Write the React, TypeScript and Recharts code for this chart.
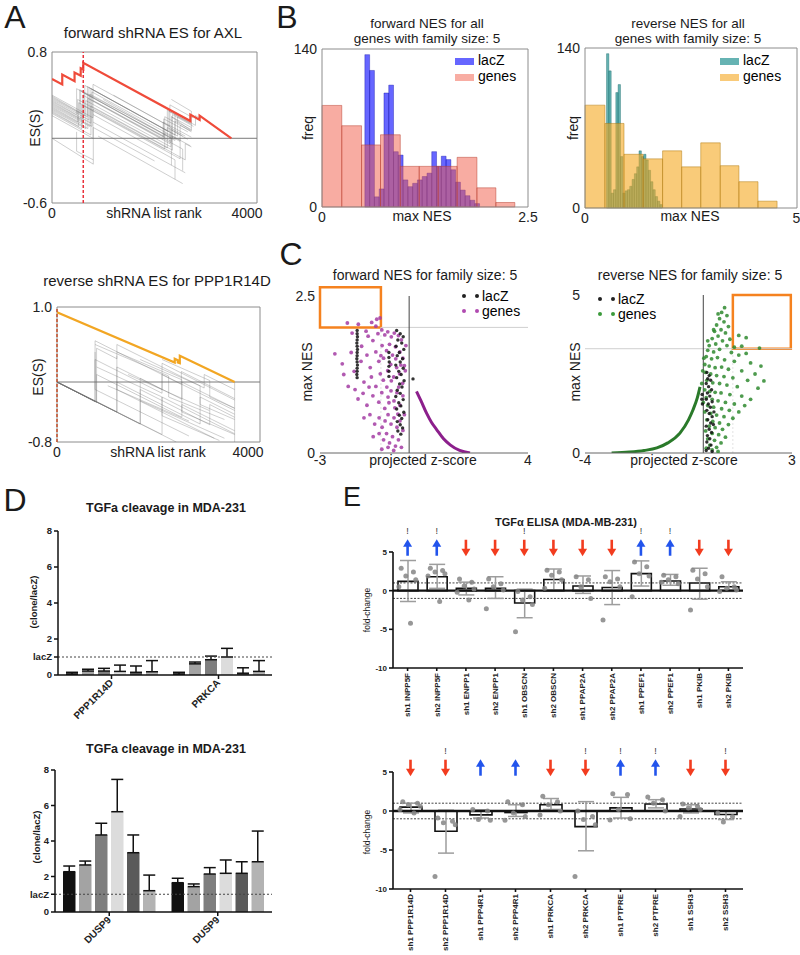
import React from 'react';
import {
  ComposedChart, BarChart, Bar, Line, Scatter, XAxis, YAxis,
  ReferenceArea, ReferenceLine, ReferenceDot, ErrorBar,
} from 'recharts';

const FONT = "'Liberation Sans', Arial, Helvetica, sans-serif";

/* ---------------- A: running enrichment scores ---------------- */
const aFwdHitRank = 610;
const aFwdRed = [[0,0.55],[200,0.5],[200,0.59],[440,0.53],[440,0.61],[560,0.58],[560,0.65],[610,0.64],[610,0.70],[2700,0.16],[2700,0.22],[2880,0.17],[2880,0.21],[3500,0]];
const aFwdGray = [
  [[0,0.40],[800,0.19],[800,0.50],[2300,0.11],[2300,0.31],[2750,0.19]],
  [[0,0.39],[690,0.2],[690,0.48],[2280,0.06],[2280,0.25],[2700,0.14]],
  [[0,0.38],[640,0.21],[640,0.49],[2250,0.07],[2250,0.26],[2800,0.12],[2800,0.21],[2900,0.18]],
  [[0,0.37],[540,0.23],[540,0.45],[2350,0.0],[2350,0.22],[2760,0.11]],
  [[0,0.36],[720,0.17],[720,0.47],[2400,0.03],[2400,0.24],[2720,0.16]],
  [[0,0.35],[480,0.22],[480,0.46],[2200,0.01],[2200,0.20],[2700,0.07]],
  [[0,0.34],[760,0.14],[760,0.46],[2450,0.02],[2450,0.2],[2720,0.13]],
  [[0,0.33],[560,0.18],[560,0.44],[2330,-0.03],[2330,0.20],[2720,0.10]],
  [[0,0.32],[620,0.16],[620,0.42],[2180,0.02],[2180,0.18],[2650,0.06]],
  [[0,0.31],[780,0.11],[780,0.43],[2500,-0.02],[2500,0.12],[2720,0.06]],
  [[0,0.30],[740,0.11],[740,0.41],[2400,-0.02],[2400,0.16],[2720,0.08]],
  [[0,0.29],[600,0.13],[600,0.40],[2170,-0.01],[2170,0.15],[2720,0.01]],
  [[0,0.28],[500,0.15],[500,0.36],[2250,-0.09],[2250,0.1],[2550,0.02]],
  [[0,0.27],[700,0.09],[700,0.37],[2300,-0.05],[2300,0.10],[2600,0.02]],
  [[0,0.26],[660,0.09],[660,0.35],[2320,-0.08],[2320,0.08],[2650,-0.01]],
  [[0,0.25],[520,0.11],[520,0.33],[2200,-0.10],[2200,0.05],[2500,-0.03]],
  [[0,0.24],[580,0.09],[580,0.31],[2500,-0.19],[2500,0.0]],
  [[0,0.23],[760,0.03],[760,0.30],[2350,-0.11],[2350,0.02],[2700,-0.07]],
  [[0,0.21],[800,0.00],[800,0.27],[2600,-0.20],[2600,-0.05],[2720,-0.08]],
  [[0,0.00],[806,-0.24],[806,0.10],[2000,-0.21]],
  [[480,0.06],[480,-0.12],[806,-0.2]],
  [[800,0.22],[2400,-0.20],[2400,-0.38]],
  [[800,0.35],[2550,-0.1],[2550,-0.3]],
  [[800,0.15],[2600,-0.32]],
  [[900,0.02],[2550,-0.42]],
  [[1000,0.36],[2330,0.0],[2330,-0.25]],
  [[1200,0.4],[2330,0.1]],
  [[2330,0.36],[2720,0.25],[2720,0.07],[2330,0.2]],
];
const aRevHitRank = 0;
const aRevOrange = [[0,0.93],[2320,0.26],[2320,0.31],[2380,0.29],[2380,0.26],[2420,0.25],[2420,0.35],[3500,0]];
const aRevGray = [
  [[0,0],[750,-0.26],[750,0.55],[2450,-0.03],[2450,0.14],[3500,-0.22]],
  [[0,0],[780,-0.27],[780,0.45],[1180,0.31],[1180,0.5],[2900,-0.08],[2900,0.1],[3500,-0.1]],
  [[0,0],[1180,-0.4],[1180,0.2],[2070,-0.1],[2070,0.25],[3500,-0.24]],
  [[0,0],[1180,-0.4],[1180,0.0],[2820,-0.56],[2820,-0.2],[3500,-0.43]],
  [[0,0],[1640,-0.56],[1640,0.05],[2460,-0.23],[2460,0.0],[3500,-0.35]],
  [[0,0],[750,-0.26],[750,0.3],[2070,-0.15],[2070,0.1],[3500,-0.38]],
  [[0,0],[1640,-0.56],[1640,-0.1],[3010,-0.57],[3010,-0.3],[3500,-0.47]],
  [[0,0],[2070,-0.7],[2070,-0.2],[3500,-0.69]],
  [[0,0],[780,-0.27],[780,0.1],[2460,-0.47],[2460,-0.3],[3500,-0.65]],
  [[0,0],[2350,-0.8]],
  [[750,0.4],[750,-0.1],[2600,-0.72]],
  [[750,0.5],[2200,0.08],[2200,-0.2],[3300,-0.5]],
  [[1180,0.35],[1180,-0.1],[3100,-0.75]],
  [[1180,0.4],[2460,0.03],[2460,-0.4],[3500,-0.7]],
  [[1640,0.3],[2820,-0.05],[2820,-0.3],[3500,-0.5]],
  [[780,0.2],[2070,-0.2],[2070,-0.45],[3200,-0.78]],
  [[2070,0.3],[3010,0.02],[3010,-0.2],[3500,-0.35]],
  [[1400,0.1],[3000,-0.38]],
  [[1000,-0.05],[2600,-0.52]],
  [[1640,-0.25],[3300,-0.75]],
  [[3500,0.0],[3500,-0.8]],
];

/* ---------------- B: NES histograms ---------------- */
const bFwdGeneEdges = [0, 0.24, 0.48, 0.71, 0.95, 1.18, 1.41, 1.64, 1.88, 2.11, 2.34];
const bFwdGeneCounts = [90, 72, 55, 64, 36, 36, 36, 44, 17, 4];
const bFwdLacZStart = 0.52;
const bFwdLacZWidth = 0.058;
const bFwdLacZCounts = [135,121,9,16,101,108,49,46,24,18,21,24,27,30,49,36,45,42,33,22,15,10,6,3];
const bRevGeneEdges = [0, 0.47, 0.92, 1.37, 1.83, 2.28, 2.73, 3.19, 3.63, 4.08, 4.53];
const bRevGeneCounts = [90, 74, 47, 43, 50, 36, 57, 37, 23, 6];
const bRevLacZStart = 0.508;
const bRevLacZWidth = 0.0547;
const bRevLacZCounts = [135,120,13,16,101,108,45,13,15,16,19,25,30,36,50,45,47,42,33,23,16,10,6,3];

/* ---------------- C: NES vs projected z-score ---------------- */
const cFwdGenes = [
  [-2.08,2.07],[-1.71,2.05],[-1.26,2.08],[-1.09,2.13],[-0.98,2.15],[-1.12,2.02],[-1.45,1.94],[-1.92,1.91],
  [-2.5,1.58],[-2.25,1.42],[-1.95,1.6],[-1.38,1.86],[-1.22,1.79],[-1.05,1.9],[-0.92,1.96],[-0.82,1.88],[-0.72,1.93],[-0.6,1.85],[-0.5,1.91],[-0.36,1.87],[-0.26,1.8],
  [-1.62,1.46],[-1.42,1.56],[-1.31,1.36],[-1.12,1.61],[-1.02,1.46],[-0.91,1.71],[-0.86,1.51],[-0.76,1.63],[-0.66,1.73],[-0.56,1.56],[-0.46,1.69],[-0.31,1.61],[-0.21,1.51],[-0.16,1.39],[-0.11,1.71],
  [-2.05,1.06],[-1.82,1.01],[-1.52,1.13],[-1.27,1.21],[-1.12,1.06],[-0.97,1.26],[-0.87,1.16],[-0.72,1.31],[-0.62,1.41],[-0.52,1.21],[-0.42,1.36],[-0.32,1.26],[-0.22,1.11],[-0.13,1.31],
  [-1.72,0.86],[-1.42,0.76],[-1.22,0.91],[-1.02,0.81],[-0.92,0.96],[-0.82,0.71],[-0.71,0.89],[-0.61,0.99],[-0.51,0.83],[-0.41,0.96],[-0.31,0.76],[-0.21,0.91],[-0.16,0.61],
  [-1.52,0.56],[-1.32,0.61],[-1.16,0.46],[-1.01,0.56],[-0.91,0.41],[-0.81,0.51],[-0.71,0.61],[-0.61,0.46],[-0.51,0.56],[-0.41,0.41],[-0.31,0.51],[-0.21,0.36],
  [-1.21,0.26],[-1.01,0.31],[-0.86,0.21],[-0.76,0.31],[-0.66,0.16],[-0.56,0.26],[-0.46,0.11],[-0.36,0.21],[-0.26,0.09],
  [-0.92,0.06],[-0.71,0.09],[-0.52,0.04],
  [-2.2,1.25],[-1.85,1.3],[-1.6,1.7],[-1.55,0.95],[-1.35,1.05],[-0.95,1.55],[-0.45,1.5],[-0.28,1.4],[-0.6,1.15],[-0.35,1.05],[-0.75,1.05],[-0.48,0.72],[-0.68,0.8],[-0.38,0.62],
];
const cFwdLacZ = [
  [-1.75,1.95],[-1.75,1.9],[-1.74,1.85],[-1.75,1.8],[-1.76,1.75],[-1.75,1.7],[-1.74,1.65],[-1.75,1.6],[-1.75,1.55],[-1.76,1.5],[-1.75,1.45],[-1.74,1.4],[-1.75,1.35],[-1.75,1.3],[-1.76,1.25],[-1.75,1.2],
  [-0.68,1.6],[-0.68,1.52],[-0.67,1.45],[-0.68,1.38],[-0.68,1.3],[-0.68,1.22],
  [-0.42,1.95],[-0.3,1.9],[-0.2,1.85],[-0.38,1.8],[-0.25,1.75],[-0.44,1.7],[-0.18,1.65],[-0.33,1.6],[-0.4,1.55],[-0.22,1.5],[-0.3,1.45],[-0.45,1.4],[-0.2,1.35],[-0.35,1.3],[-0.27,1.25],[-0.42,1.2],[-0.17,1.15],[-0.32,1.1],[-0.24,1.05],[-0.4,1.0],[-0.3,0.95],[-0.45,0.9],[-0.2,0.85],[-0.35,0.8],[-0.28,0.75],[-0.42,0.7],[-0.18,0.65],[-0.33,0.6],[-0.25,0.55],[-0.4,0.5],[-0.3,0.45],[-0.22,0.4],[-0.38,0.35],[-0.28,0.3],
  [0.13,1.18],
];
const cFwdCurve = [[0.25,0.98],[0.4,0.83],[0.59,0.63],[0.75,0.49],[0.93,0.37],[1.15,0.23],[1.38,0.13],[1.7,0.04],[2.05,0]];
const cFwdBox = { x1: -3, x2: -0.95, y1: 2.0, y2: 2.64 };

const cRevGenes = [
  [0.72,4.6],[0.62,4.45],[0.8,4.35],[0.55,4.25],[0.7,4.15],[0.45,4.05],[0.85,4.0],[0.6,3.9],[0.38,3.85],[0.75,3.8],[0.5,3.7],[0.3,3.62],[0.9,3.6],[0.65,3.55],[0.42,3.45],[0.2,3.4],[0.8,3.4],
  [1.2,3.72],[1.45,3.65],[1.3,3.38],[1.9,3.32],[1.05,3.35],
  [0.15,3.25],[0.35,3.2],[0.55,3.28],[0.95,3.18],[1.2,3.1],[1.45,3.15],[0.1,3.05],[0.28,2.98],[0.48,3.02],[0.72,2.95],[1.05,2.9],[1.6,2.85],[1.95,2.75],[0.05,2.8],[0.2,2.75],[0.4,2.7],[0.62,2.72],[0.85,2.65],[1.3,2.6],[1.75,2.5],
  [0.08,2.55],[0.25,2.5],[0.45,2.45],[0.7,2.42],[1.0,2.38],[1.5,2.3],[2.05,2.28],[0.12,2.3],[0.32,2.22],[0.55,2.2],[0.8,2.15],[1.15,2.1],[1.85,2.05],
  [0.05,2.0],[0.22,1.95],[0.4,1.92],[0.6,1.9],[0.9,1.85],[1.3,1.8],[1.6,1.7],[0.1,1.75],[0.3,1.7],[0.5,1.65],[0.75,1.6],[1.05,1.55],[1.4,1.5],[0.15,1.5],[0.35,1.45],[0.62,1.4],[0.88,1.35],[1.2,1.3],
  [0.05,1.3],[0.25,1.25],[0.45,1.2],[0.7,1.15],[1.0,1.1],[0.12,1.05],[0.32,1.0],[0.55,0.95],[0.85,0.9],[0.2,0.85],[0.4,0.8],[0.65,0.75],[0.08,0.7],[0.3,0.62],[0.52,0.58],[0.75,0.5],
  [0.15,0.45],[0.38,0.4],[0.6,0.32],[0.22,0.25],[0.45,0.18],[0.3,0.1],[0.5,0.05],[0.1,0.15],
  [-0.05,2.2],[0.0,1.6],[-0.02,2.6],[0.02,3.0],[0.35,3.9],[0.15,3.55],[0.5,4.4],
];
const cRevLacZ = [
  [0.12,2.55],[0.2,2.45],[0.15,2.35],[0.25,2.3],[0.1,2.2],[0.18,2.1],[0.28,2.0],[0.14,1.9],[0.22,1.8],[0.1,1.7],[0.3,1.62],[0.17,1.55],[0.24,1.45],[0.12,1.35],[0.2,1.25],[0.3,1.15],[0.15,1.05],[0.25,0.95],[0.1,0.85],[0.2,0.75],[0.28,0.65],[0.14,0.55],[0.22,0.45],[0.12,0.35],[0.26,0.25],[0.18,0.15],[0.1,0.08],[0.3,0.05],
  [-0.04,1.85],[-0.05,1.7],[-0.03,1.55],[0.34,0.9],[0.36,1.3],
];
const cRevCurve = [[-3.1,0],[-2.5,0.03],[-2.0,0.08],[-1.57,0.16],[-1.2,0.32],[-0.79,0.63],[-0.5,1.05],[-0.35,1.36],[-0.2,1.75],[-0.11,2.09]];
const cRevBox = { x1: 1.0, x2: 2.96, y1: 3.3, y2: 5.0 };

/* ---------------- D: TGFa cleavage ---------------- */
const dTopGroups = ['PPP1R14D', 'PRKCA'];
const dTopMeans = [[0.06,0.22,0.22,0.2,0.15,0.18],[0.06,0.62,0.85,1.0,0.1,0.2]];
const dTopUpper = [[0.15,0.32,0.37,0.55,0.5,0.8],[0.15,0.72,1.05,1.48,0.4,0.8]];
const dBotGroups = ['DUSP9', 'DUSP9'];
const dBotMeans = [[2.27,2.65,4.34,5.65,3.34,1.2],[1.65,1.43,2.14,2.18,2.18,2.83]];
const dBotUpper = [[2.59,2.87,5.0,7.47,4.34,2.08],[1.9,1.58,2.5,2.93,2.83,4.56]];

/* ---------------- E: TGFα ELISA ---------------- */
const eTopLabels = ['sh1 INPP5F','sh2 INPP5F','sh1 ENPP1','sh2 ENPP1','sh1 OBSCN','sh2 OBSCN','sh1 PPAP2A','sh2 PPAP2A','sh1 PPEF1','sh2 PPEF1','sh1 PKIB','sh2 PKIB'];
const eTopMeans = [1.2,1.8,0.3,0.3,-1.6,1.45,0.6,0.4,2.2,1.25,1.0,0.5];
const eTopLow = [-1.4,0.3,-0.55,-1.0,-3.5,0.1,-0.35,-1.8,0.6,0.7,-1.1,-0.1];
const eTopHigh = [3.9,3.4,1.1,1.8,0.2,2.8,1.9,2.6,3.85,2.1,2.9,1.15];
const eTopDots = [[2.9,2.4,1.9,1.4,0.5,-4.2],[2.9,2.6,2.4,2.2,1.9,-1.4],[1.5,1.1,0.6,0.2,-0.2,-1.2],[1.5,0.9,0.5,0.1,-2.35],[-0.1,-0.8,-1.2,-1.8,-5.3],[2.65,2.4,2.0,1.4,0.3],[1.8,1.4,0.5,-1.0],[1.8,1.5,1.15,0.5,-3.8],[3.7,3.1,2.2,1.9,-0.8],[2.0,1.8,1.4,0.9,1.1],[2.65,2.2,1.5,0.5,-2.5],[1.8,0.5,0.3,0.1,-0.1]];
const eTopDir = [1,1,-1,-1,-1,-1,-1,-1,1,1,-1,-1];
const eTopBang = [1,1,0,0,1,0,0,0,1,1,0,0];

const eBotLabels = ['sh1 PPP1R14D','sh2 PPP1R14D','sh1 PPP4R1','sh2 PPP4R1','sh1 PRKCA','sh2 PRKCA','sh1 PTPRE','sh2 PTPRE','sh1 SSH3','sh2 SSH3'];
const eBotMeans = [0.5,-2.6,-0.5,-0.2,0.8,-2.0,0.4,0.9,0.25,-0.45];
const eBotLow = [-0.25,-5.4,-0.9,-0.7,0.2,-5.1,-0.9,0.4,-0.25,-1.1];
const eBotHigh = [1.0,0.1,0.15,0.8,1.6,1.2,1.75,1.45,0.8,0.0];
const eBotDots = [[1.2,1.0,0.8,0.6,0.2,-0.25],[-0.9,-1.3,-1.5,-1.75,-8.4],[0.2,0.0,-1.1,-1.2],[1.2,0.8,-0.25,-0.7,-1.2],[1.9,1.2,0.8,0.0,-0.5],[0.0,-0.7,-1.1,-1.75,-8.4],[2.2,2.1,0.2,-1.0,-1.15],[1.8,1.45,1.0,0.0],[0.9,0.6,0.4,0.2,-0.7],[-0.25,-0.7,-1.4]];
const eBotDir = [-1,-1,1,1,-1,-1,1,1,-1,-1];
const eBotBang = [0,1,0,0,0,1,1,1,0,1];

/* ---------------- helpers ---------------- */
const xy = (pts: number[][]) => pts.map(([x, y]) => ({ x, y }));
const tick14 = { fontSize: 14, fill: '#222', fontFamily: FONT };
const D_COLORS = ['#111111', '#a3a3a3', '#7e7e7e', '#dcdcdc', '#5a5a5a', '#b3b3b3'];
const E_JITTER = [-0.22, 0.2, -0.06, 0.28, -0.3, 0.1];
const E_ARROW_Y = 5.55;

function Txt({ x, y, size = 14, bold = false, rot = 0, children }: any) {
  return (
    <div style={{
      position: 'absolute', left: x, top: y,
      transform: `translate(-50%,-50%) rotate(${rot}deg)`,
      fontSize: size, fontWeight: bold ? 700 : 400, fontFamily: FONT,
      whiteSpace: 'nowrap', lineHeight: 1, color: '#1a1a1a',
    }}>{children}</div>
  );
}

function ESPanel({ top, width, height, mTop, mRight, yW, xH, yDomain, walks, main, mainColor, hitRank, hitColor, xTickShift }: any) {
  return (
    <div style={{ position: 'absolute', left: 0, top }}>
      <ComposedChart width={width} height={height} margin={{ top: mTop, right: mRight, bottom: 0, left: 0 }}>
        <XAxis type="number" dataKey="x" domain={[0, 4000]} ticks={[0, 4000]} allowDataOverflow
          axisLine={false} tickLine={false} tickSize={3} height={xH}
          tick={(p: any) => (
            <text x={p.x + (p.payload.value === 4000 ? xTickShift : 0)} y={p.y} dy="0.71em" textAnchor="middle" {...tick14}>{p.payload.value}</text>
          )} />
        <YAxis type="number" domain={yDomain} ticks={yDomain} allowDataOverflow axisLine={false} tickLine={false}
          tickSize={3} width={yW} tick={tick14} tickFormatter={(v: number) => v.toFixed(1)} />
        <ReferenceLine y={0} stroke="#7a7a7a" strokeWidth={1} />
        {walks.map((w: number[][], i: number) => (
          <Line key={i} data={xy(w)} dataKey="y" type="linear" stroke="#707070" strokeOpacity={0.42}
            strokeWidth={0.8} dot={false} isAnimationActive={false} />
        ))}
        <Line data={xy(main)} dataKey="y" type="linear" stroke={mainColor} strokeWidth={2.2} dot={false} isAnimationActive={false} />
        <ReferenceLine x={hitRank} stroke={hitColor} strokeDasharray="3 2" strokeWidth={1.5} ifOverflow="visible" />
        <ReferenceArea x1={0} x2={4000} y1={yDomain[0]} y2={yDomain[1]} fill="none" stroke="#8c8c8c" ifOverflow="visible" />
      </ComposedChart>
    </div>
  );
}

function HistPanel({ left, width, yW, mRight, mTop, xH, xMax, geneEdges, geneCounts, lzStart, lzWidth, lzCounts, lzFill, lzStroke, geneFill, geneStroke, geneOpacity }: any) {
  return (
    <div style={{ position: 'absolute', left, top: 0 }}>
      <ComposedChart width={width} height={225} margin={{ top: mTop, right: mRight, bottom: 0, left: 0 }}>
        <XAxis type="number" dataKey="x" domain={[0, xMax]} ticks={[0, xMax]} allowDataOverflow axisLine={false}
          tickLine={false} tickSize={3} height={xH} tick={tick14} />
        <YAxis type="number" dataKey="y" domain={[0, 140]} ticks={[0, 140]} allowDataOverflow axisLine={false}
          tickLine={false} tickSize={3} width={yW} tick={tick14} />
        <Scatter data={[{ x: 0, y: 0 }]} fill="none" isAnimationActive={false} />
        {lzCounts.map((c: number, i: number) => (
          <ReferenceArea key={'l' + i} x1={lzStart + i * lzWidth} x2={lzStart + (i + 1) * lzWidth} y1={0} y2={c}
            fill={lzFill} fillOpacity={0.6} stroke={lzStroke} strokeOpacity={0.6} strokeWidth={0.6} ifOverflow="visible" />
        ))}
        {geneCounts.map((c: number, i: number) => (
          <ReferenceArea key={'g' + i} x1={geneEdges[i]} x2={geneEdges[i + 1]} y1={0} y2={c}
            fill={geneFill} fillOpacity={geneOpacity} stroke={geneStroke} strokeOpacity={0.7} strokeWidth={0.7} ifOverflow="visible" />
        ))}
        <ReferenceArea x1={0} x2={xMax} y1={0} y2={140} fill="none" stroke="#8c8c8c" ifOverflow="visible" />
      </ComposedChart>
    </div>
  );
}

const dotShape = (color: string, r: number) => (p: any) => (
  <circle cx={p.cx} cy={p.cy} r={r} fill={color} fillOpacity={0.85} />
);

function ZPanel({ left, width, yW, mRight, mTop, xDomain, yDomain, genes, lacz, curve, geneColor, curveColor, box, hLine, vLine }: any) {
  return (
    <div style={{ position: 'absolute', left, top: 240 }}>
      <ComposedChart width={width} height={235} margin={{ top: mTop, right: mRight, bottom: 0, left: 0 }}>
        <XAxis type="number" dataKey="x" domain={xDomain} ticks={xDomain} allowDataOverflow
          axisLine={{ stroke: '#666' }} tickLine={false} tickSize={0} height={22} tick={tick14} />
        <YAxis type="number" dataKey="y" domain={yDomain} ticks={yDomain} allowDataOverflow axisLine={false}
          tickLine={false} tickSize={3} width={yW} tick={tick14} />
        <ReferenceLine segment={[{ x: hLine[0], y: hLine[2] }, { x: hLine[1], y: hLine[2] }]} stroke="#cfcfcf" />
        <ReferenceLine segment={[{ x: vLine[0], y: vLine[1] }, { x: vLine[0], y: vLine[2] }]} stroke="#e2e2e2" strokeDasharray="2 2" />
        <Scatter data={xy(genes)} dataKey="y" shape={dotShape(geneColor, 1.9)} isAnimationActive={false} />
        <Line data={xy(curve)} dataKey="y" type="monotone" stroke={curveColor} strokeWidth={3} dot={false} isAnimationActive={false} />
        <Scatter data={xy(lacz)} dataKey="y" shape={dotShape('#111', 1.7)} isAnimationActive={false} />
        <ReferenceLine x={0} stroke="#444" />
        <ReferenceArea x1={box.x1} x2={box.x2} y1={box.y1} y2={box.y2} fill="none" stroke="#f5821f" strokeWidth={2.5} ifOverflow="visible" />
      </ComposedChart>
    </div>
  );
}

const DTick = (p: any) => (
  <text x={p.x} y={p.y} transform={`rotate(-45 ${p.x} ${p.y})`} textAnchor="end" dy="0.35em"
    fontSize={10} fontWeight={700} fill="#222" fontFamily={FONT}>{p.payload.value}</text>
);

function DPanel({ top, height, mTop, yW, xH, groups, means, uppers, barSize, barGap, catGap }: any) {
  const data = groups.map((name: string, g: number) => {
    const row: any = { name };
    means[g].forEach((v: number, i: number) => { row['v' + i] = v; row['e' + i] = [0, uppers[g][i] - v]; });
    return row;
  });
  return (
    <div style={{ position: 'absolute', left: 0, top }}>
      <BarChart width={272} height={height} data={data} margin={{ top: mTop, right: 0, bottom: 0, left: 0 }}
        barGap={barGap} barCategoryGap={catGap}>
        <XAxis dataKey="name" interval={0} axisLine={{ stroke: '#111', strokeWidth: 1.5 }}
          tickLine={{ stroke: '#111', strokeWidth: 1.5 }} tickSize={4} height={xH} tick={DTick} />
        <YAxis type="number" domain={[0, 8]} ticks={[0, 1, 2, 4, 6, 8]} tickFormatter={(v: number) => (v === 1 ? 'lacZ' : String(v))}
          axisLine={{ stroke: '#111', strokeWidth: 1.5 }} tickLine={{ stroke: '#111', strokeWidth: 1.5 }} tickSize={4} width={yW}
          tick={{ fontSize: 9.5, fontWeight: 700, fill: '#222', fontFamily: FONT }} />
        {means[0].map((_: number, i: number) => (
          <Bar key={i} dataKey={'v' + i} fill={D_COLORS[i]} barSize={barSize} isAnimationActive={false}>
            <ErrorBar dataKey={'e' + i} width={6} stroke="#111" strokeWidth={1.5} direction="y" />
          </Bar>
        ))}
        <ReferenceLine y={1} stroke="#444" strokeDasharray="2 2" />
      </BarChart>
    </div>
  );
}

const ETick = (p: any) => (
  <text x={p.x} y={p.y} transform={`rotate(-90 ${p.x} ${p.y})`} textAnchor="end" dy="0.35em"
    fontSize={8} fontWeight={700} fill="#222" fontFamily={FONT}>{p.payload.value}</text>
);

function ArrowMark({ cx, cy, up, bang }: any) {
  const c = up ? '#2254ec' : '#f23c1f';
  const s = up ? -1 : 1;
  return (
    <g>
      <line x1={cx} y1={cy - s * 8} x2={cx} y2={cy + s * 2} stroke={c} strokeWidth={2.6} />
      <polygon points={`${cx - 4.5},${cy + s * 1} ${cx + 4.5},${cy + s * 1} ${cx},${cy + s * 8.5}`} fill={c} />
      {bang ? <text x={cx} y={cy - 17} textAnchor="middle" dominantBaseline="central" fontSize={9} fill="#333" stroke="none" fontFamily={FONT}>!</text> : null}
    </g>
  );
}

function EPanel({ top, height, mTop, xH, labels, means, lows, highs, dots, dirs, bangs, barSize }: any) {
  const n = labels.length;
  const data = labels.map((name: string, i: number) => ({ name, mean: means[i], err: [means[i] - lows[i], highs[i] - means[i]] }));
  const pts = dots.flatMap((vals: number[], i: number) => vals.map((v: number, j: number) => ({ x: i + E_JITTER[j % E_JITTER.length], y: v })));
  const axisStyle = { stroke: '#111', strokeWidth: 1.6 };
  return (
    <div style={{ position: 'absolute', left: 270, top }}>
      <ComposedChart width={480} height={height} data={data} margin={{ top: mTop, right: 7, bottom: 0, left: 80 }}>
        <XAxis dataKey="name" interval={0} axisLine={axisStyle} tickLine={axisStyle} tickSize={3} height={xH} tick={ETick} />
        <XAxis xAxisId="n" type="number" dataKey="x" domain={[-0.5, n - 0.5]} hide allowDataOverflow />
        <YAxis type="number" dataKey="y" domain={[-10, 5]} ticks={[-10, -5, 0, 5]} axisLine={axisStyle} tickLine={axisStyle}
          tickSize={4} width={43} tick={{ fontSize: 8, fontWeight: 700, fill: '#222', fontFamily: FONT }} />
        <ReferenceLine y={1} stroke="#444" strokeDasharray="2 1.5" />
        <ReferenceLine y={-1} stroke="#444" strokeDasharray="2 1.5" />
        <Bar dataKey="mean" fill="#ffffff" stroke="#111" strokeWidth={1.6} barSize={barSize} isAnimationActive={false}>
          <ErrorBar dataKey="err" width={8} stroke="#9d9d9d" strokeWidth={1.5} direction="y" />
        </Bar>
        <ReferenceLine y={0} stroke="#111" strokeWidth={2.4} />
        <Scatter xAxisId="n" data={pts} dataKey="y" shape={dotShape('#858585', 2.5)} isAnimationActive={false} />
        {dirs.map((d: number, i: number) => (
          <ReferenceDot key={i} xAxisId="n" x={i} y={E_ARROW_Y} ifOverflow="visible"
            shape={(p: any) => <ArrowMark cx={p.cx} cy={p.cy} up={d === 1} bang={bangs[i] === 1} />} />
        ))}
      </ComposedChart>
    </div>
  );
}

function LegendB({ x, y, lzColor, geneColor }: any) {
  const sw = (c: string, top: number) => (
    <div style={{ position: 'absolute', left: x, top: top, width: 19, height: 7, background: c }} />
  );
  return (
    <>
      {sw(lzColor, y - 3)}
      {sw(geneColor, y + 13)}
      <div style={{ position: 'absolute', left: x + 23, top: y - 8, fontSize: 14, fontFamily: FONT, lineHeight: 1 }}>lacZ</div>
      <div style={{ position: 'absolute', left: x + 23, top: y + 8, fontSize: 14, fontFamily: FONT, lineHeight: 1 }}>genes</div>
    </>
  );
}

function LegendC({ x, y, geneColor }: any) {
  const dot = (c: string, l: number, t: number) => (
    <div style={{ position: 'absolute', left: l, top: t, width: 4, height: 4, borderRadius: 2, background: c }} />
  );
  return (
    <>
      {dot('#222', x, y - 2)}{dot('#222', x + 13, y - 2)}
      {dot(geneColor, x, y + 13)}{dot(geneColor, x + 13, y + 13)}
      <div style={{ position: 'absolute', left: x + 20, top: y - 7, fontSize: 14, fontFamily: FONT, lineHeight: 1 }}>lacZ</div>
      <div style={{ position: 'absolute', left: x + 20, top: y + 8, fontSize: 14, fontFamily: FONT, lineHeight: 1 }}>genes</div>
    </>
  );
}

export default function App() {
  return (
    <div style={{ position: 'absolute', left: 0, top: 0, width: 800, height: 955, background: '#fff', overflow: 'hidden', fontFamily: FONT }}>
      {/* Panel A */}
      <ESPanel top={0} width={275} height={225} mTop={52} mRight={18} yW={52} xH={22} yDomain={[-0.6, 0.8]}
        walks={aFwdGray} main={aFwdRed} mainColor="#ef4b3a" hitRank={aFwdHitRank} hitColor="#e8323c" xTickShift={-10} />
      <ESPanel top={240} width={278} height={225} mTop={67} mRight={18} yW={57} xH={23} yDomain={[-0.8, 1.0]}
        walks={aRevGray} main={aRevOrange} mainColor="#f2a623" hitRank={aRevHitRank} hitColor="#c8502a" xTickShift={-12} />
      <Txt x={15} y={17} size={32}>A</Txt>
      <Txt x={153} y={32} size={15}>forward shRNA ES for AXL</Txt>
      <Txt x={35} y={128} rot={-90}>ES(S)</Txt>
      <Txt x={154} y={213}>shRNA list rank</Txt>
      <Txt x={157} y={280} size={15}>reverse shRNA ES for PPP1R14D</Txt>
      <Txt x={38} y={377} rot={-90}>ES(S)</Txt>
      <Txt x={158} y={452}>shRNA list rank</Txt>

      {/* Panel B */}
      <HistPanel left={270} width={270} yW={52} mRight={12} mTop={49} xH={18} xMax={2.5}
        geneEdges={bFwdGeneEdges} geneCounts={bFwdGeneCounts} lzStart={bFwdLacZStart} lzWidth={bFwdLacZWidth}
        lzCounts={bFwdLacZCounts} lzFill="#0000ff" lzStroke="#0000a0" geneFill="#f25a46" geneStroke="#b8402e" geneOpacity={0.5} />
      <HistPanel left={540} width={260} yW={45} mRight={3} mTop={48} xH={17} xMax={5}
        geneEdges={bRevGeneEdges} geneCounts={bRevGeneCounts} lzStart={bRevLacZStart} lzWidth={bRevLacZWidth}
        lzCounts={bRevLacZCounts} lzFill="#008080" lzStroke="#005a5a" geneFill="#f5a820" geneStroke="#b07a10" geneOpacity={0.6} />
      <Txt x={287} y={17} size={32}>B</Txt>
      <Txt x={427} y={24} size={13.5}>forward NES for all</Txt>
      <Txt x={427} y={39} size={13.5}>genes with family size: 5</Txt>
      <Txt x={308} y={128} rot={-90}>freq</Txt>
      <Txt x={422} y={216}>max NES</Txt>
      <LegendB x={455} y={61} lzColor="#6666ff" geneColor="#f8ada3" />
      <Txt x={688} y={24} size={13.5}>reverse NES for all</Txt>
      <Txt x={688} y={39} size={13.5}>genes with family size: 5</Txt>
      <Txt x={573} y={128} rot={-90}>freq</Txt>
      <Txt x={690} y={216}>max NES</Txt>
      <LegendB x={720} y={61} lzColor="#66b3b3" geneColor="#f9ca79" />

      {/* Panel C */}
      <ZPanel left={270} width={270} yW={50} mRight={12} mTop={56} xDomain={[-3, 4]} yDomain={[0, 2.5]}
        genes={cFwdGenes} lacz={cFwdLacZ} curve={cFwdCurve} geneColor="#a33ca3" curveColor="#8c1f8c"
        box={cFwdBox} hLine={[-0.95, 4, 2.0]} vLine={[-0.95, 0, 2.0]} />
      <ZPanel left={540} width={260} yW={45} mRight={8} mTop={55} xDomain={[-4, 3]} yDomain={[0, 5]}
        genes={cRevGenes} lacz={cRevLacZ} curve={cRevCurve} geneColor="#2f8a2f" curveColor="#2a7a2a"
        box={cRevBox} hLine={[-4, 3, 3.3]} vLine={[1.0, 0, 3.3]} />
      <Txt x={291} y={254} size={32}>C</Txt>
      <Txt x={425} y={275}>forward NES for family size: 5</Txt>
      <Txt x={307} y={372} rot={-90}>max NES</Txt>
      <Txt x={423} y={460}>projected z-score</Txt>
      <LegendC x={462} y={296} geneColor="#b04ab0" />
      <Txt x={690} y={275}>reverse NES for family size: 5</Txt>
      <Txt x={575} y={372} rot={-90}>max NES</Txt>
      <Txt x={684} y={460}>projected z-score</Txt>
      <LegendC x={598} y={299} geneColor="#3a9a3a" />

      {/* Panel D */}
      <DPanel top={520} height={220} mTop={11} yW={58} xH={65} groups={dTopGroups} means={dTopMeans} uppers={dTopUpper}
        barSize={12} barGap={4} catGap={7} />
      <DPanel top={760} height={195} mTop={10} yW={55} xH={43} groups={dBotGroups} means={dBotMeans} uppers={dBotUpper}
        barSize={12.5} barGap={3.5} catGap={8} />
      <Txt x={15} y={500} size={32}>D</Txt>
      <Txt x={166} y={508} size={12.5} bold>TGFa cleavage in MDA-231</Txt>
      <Txt x={34} y={602} size={9.5} bold rot={-90}>(clone/lacZ)</Txt>
      <Txt x={166} y={749} size={12.5} bold>TGFa cleavage in MDA-231</Txt>
      <Txt x={37} y={837} size={9.5} bold rot={-90}>(clone/lacZ)</Txt>

      {/* Panel E */}
      <EPanel top={470} height={260} mTop={82} xH={62} labels={eTopLabels} means={eTopMeans} lows={eTopLow} highs={eTopHigh}
        dots={eTopDots} dirs={eTopDir} bangs={eTopBang} barSize={20} />
      <EPanel top={735} height={220} mTop={37} xH={66} labels={eBotLabels} means={eBotMeans} lows={eBotLow} highs={eBotHigh}
        dots={eBotDots} dirs={eBotDir} bangs={eBotBang} barSize={22} />
      <Txt x={352} y={497} size={27}>E</Txt>
      <Txt x={566} y={522} size={11} bold>TGFα ELISA (MDA-MB-231)</Txt>
      <Txt x={367} y={610} size={8.5} rot={-90}>fold-change</Txt>
      <Txt x={367} y={832} size={8.5} rot={-90}>fold-change</Txt>
    </div>
  );
}
